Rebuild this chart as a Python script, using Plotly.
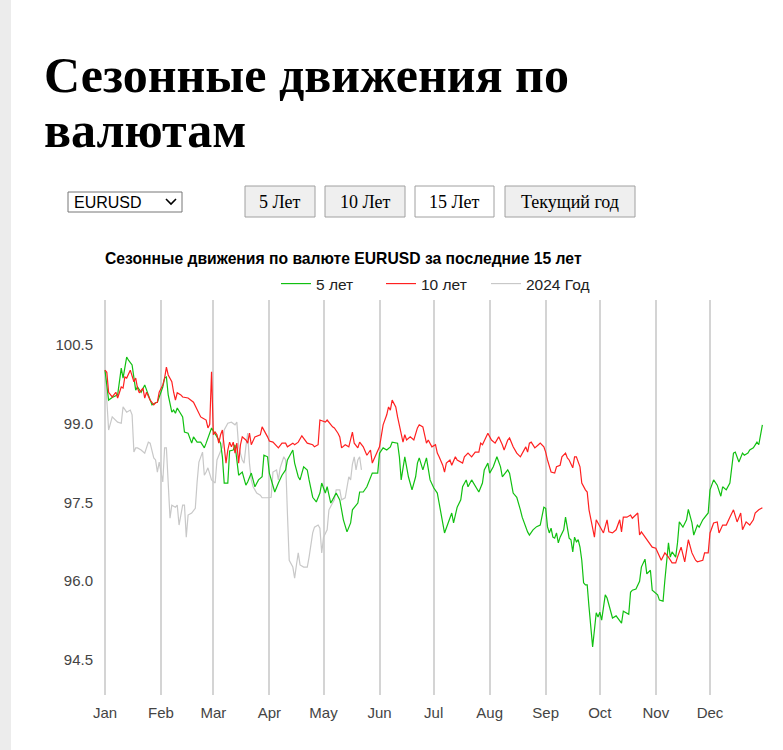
import pandas as pd
import plotly.graph_objects as go

# ---------------- data (day offset from 1 Jan, index value) ----------------
year_start = "2024-01-01"

g5_days = [0,2,4,7,9,10,12,13,15,16,
           17,18,20,22,24,26,28,29,32,33,
           34,35,37,38,39,40,43,44,46,48,
           49,51,53,55,56,58,59,62,64,65,
           66,68,69,71,72,74,76,78,79,81,
           83,85,87,88,90,91,92,94,96,98,
           100,101,104,105,107,108,110,112,113,115,
           117,119,120,122,123,125,126,128,130,132,
           134,136,137,140,141,143,145,147,148,151,
           152,154,156,158,159,162,163,164,166,168,
           170,172,173,174,176,178,180,182,184,185,
           187,188,190,192,193,195,197,198,200,201,
           203,205,207,209,210,212,213,215,217,219,
           220,223,224,226,228,230,231,234,235,237,
           239,241,242,243,244,245,246,247,248,249,
           250,251,252,254,255,256,257,258,259,260,
           261,262,263,264,265,266,267,268,269,270,
           271,272,273,274,275,277,278,280,281,283,
           286,287,290,291,292,294,296,297,299,300,
           302,303,306,307,309,310,312,313,314,316,
           317,318,320,322,323,325,326,328,329,331,
           333,334,335,337,339,341,342,344,346,348,
           349,351,353,354,356,357,359,361,362,363,
           364]
g5_vals = [100.02,99.45,99.50,99.55,100.06,99.87,100.27,100.21,100.12,99.87,
           99.64,99.70,99.60,99.74,99.55,99.36,99.40,99.41,99.70,99.87,
           99.89,99.55,99.22,99.26,99.20,99.30,99.13,98.84,98.82,98.63,
           98.75,98.65,98.65,98.54,98.63,98.84,98.92,98.75,98.63,98.37,
           97.87,97.87,98.48,98.50,98.60,98.02,98.08,97.83,97.89,98.06,
           97.80,97.93,97.99,98.40,98.37,98.06,97.93,97.70,97.87,98.02,
           98.12,98.31,98.50,98.25,97.99,97.93,98.18,98.12,97.93,97.60,
           97.51,97.68,97.87,97.68,97.80,97.49,97.55,97.68,97.55,97.17,
           96.94,97.11,97.36,97.49,97.70,97.70,97.80,97.97,98.06,98.06,
           98.44,98.54,98.50,98.56,98.65,98.63,98.37,97.93,98.37,97.99,
           97.74,97.99,98.25,98.35,98.12,98.35,97.93,97.78,97.68,97.49,
           97.11,96.92,97.11,97.30,97.11,97.41,97.55,97.80,97.93,97.80,
           97.93,97.80,97.70,97.87,98.12,98.25,98.06,98.18,98.37,98.18,
           97.99,98.12,98.06,97.68,97.60,97.36,97.22,96.94,96.88,96.98,
           97.04,97.07,97.22,97.41,97.39,97.04,96.92,97.01,96.84,96.82,
           96.92,96.73,96.84,96.98,97.22,96.98,96.82,96.79,96.56,96.84,
           96.75,96.79,96.65,96.40,95.97,95.93,95.93,95.51,95.13,94.75,
           95.07,95.40,95.32,95.41,95.26,95.74,95.68,95.45,95.30,95.34,
           95.20,95.43,95.37,95.79,95.83,95.85,96.00,96.27,96.42,96.14,
           96.21,95.83,95.74,95.64,95.62,96.02,96.73,96.46,96.56,96.46,
           96.73,97.13,97.03,97.17,97.37,97.11,96.88,97.07,97.03,97.17,
           97.26,97.30,97.74,97.93,97.83,97.62,97.80,97.74,97.87,98.44,
           98.46,98.27,98.44,98.40,98.44,98.50,98.54,98.65,98.60,98.82,
           98.98]

r10_days = [0,1,2,4,6,7,9,10,11,12,
            14,16,17,18,19,21,22,23,25,27,
            28,29,30,32,33,34,35,37,38,39,
            40,42,43,46,49,51,53,54,56,57,
            58,59,60,61,62,63,64,65,66,67,
            68,69,70,71,72,73,74,75,76,78,
            79,80,81,83,86,87,90,91,93,96,
            98,100,101,104,105,107,109,111,112,115,
            116,118,119,122,123,126,127,129,130,131,
            133,135,137,138,140,141,143,145,147,148,
            151,152,154,156,157,158,159,161,162,163,
            164,165,166,167,169,171,173,174,176,177,
            178,179,181,183,184,185,187,188,189,191,
            192,194,195,198,199,201,203,205,207,208,
            209,212,214,216,218,220,221,223,224,226,
            228,230,231,233,234,235,236,238,240,241,
            243,244,245,247,249,250,252,253,255,256,
            257,259,260,261,263,264,266,267,268,270,
            271,272,274,276,278,279,281,283,285,286,
            287,289,291,292,295,296,297,299,301,303,
            305,306,308,310,312,314,316,317,319,321,
            323,325,327,328,331,332,334,335,337,339,
            340,342,344,346,348,350,352,353,355,357,
            359,360,362,364]
r10_vals = [100.02,99.98,99.60,99.51,99.60,99.49,99.70,99.68,99.89,99.87,
            100.02,99.80,99.87,99.68,99.59,99.68,99.49,99.60,99.45,99.36,
            99.40,99.41,99.60,99.74,99.87,100.08,99.93,99.80,99.60,99.45,
            99.59,99.55,99.51,99.49,99.41,99.26,99.13,99.11,99.07,98.92,
            98.99,99.99,98.79,98.84,98.79,98.63,98.79,98.88,98.60,98.25,
            98.50,98.65,98.56,98.65,98.44,98.63,98.25,98.60,98.75,98.69,
            98.63,98.82,98.60,98.75,98.79,98.94,98.75,98.67,98.65,98.54,
            98.63,98.63,98.56,98.63,98.60,98.65,98.77,98.69,98.63,98.60,
            98.56,98.60,99.07,99.03,99.07,98.94,98.92,98.82,98.75,98.54,
            98.60,98.56,98.84,98.63,98.54,98.65,98.56,98.40,98.50,98.25,
            98.50,98.56,98.98,99.17,99.32,99.26,99.45,99.32,99.13,98.98,
            98.82,98.65,98.79,98.69,98.75,98.69,98.92,98.98,98.94,98.75,
            98.63,98.69,98.56,98.60,98.44,98.37,98.21,98.08,98.25,98.31,
            98.21,98.37,98.31,98.25,98.37,98.44,98.37,98.46,98.46,98.63,
            98.60,98.82,98.69,98.63,98.75,98.60,98.50,98.69,98.73,98.56,
            98.44,98.37,98.44,98.56,98.46,98.63,98.65,98.54,98.60,98.63,
            98.56,98.46,98.31,98.08,98.06,98.18,98.21,98.37,98.44,98.35,
            98.31,98.16,98.37,98.37,98.18,97.87,97.74,97.70,97.36,97.03,
            96.84,97.17,97.03,96.92,97.17,96.94,96.92,96.98,97.17,96.94,
            97.22,97.22,97.26,97.20,97.30,96.88,96.94,96.84,96.75,96.65,
            96.63,96.54,96.40,96.54,96.46,96.35,96.35,96.46,96.65,96.37,
            96.79,96.54,96.40,96.37,96.40,96.54,96.54,96.92,97.11,97.13,
            96.92,97.07,97.07,97.22,97.36,97.13,97.30,96.98,97.13,97.07,
            97.17,97.30,97.36,97.40]

y24_days = [0,1,2,4,6,7,9,10,12,14,
            15,16,17,18,20,22,24,25,27,28,
            29,30,32,33,34,35,36,37,39,40,
            41,43,44,45,46,48,50,51,52,54,
            55,56,57,59,61,62,65,66,68,70,
            72,73,74,76,77,78,79,80,81,82,
            84,86,87,90,91,92,93,95,96,97,
            99,100,101,102,104,105,106,107,108,110,
            112,113,115,116,118,119,120,121,123,124,
            126,127,128,130,131,133,135,136,137,138,
            139,140,141,142]
y24_vals = [100.02,99.36,98.88,99.13,99.07,99.03,99.01,99.32,99.22,99.26,
            99.17,98.46,98.54,98.54,98.50,98.44,98.65,98.63,98.35,98.31,
            98.08,98.27,97.89,98.54,98.54,97.70,97.20,97.45,97.41,97.45,
            97.07,97.45,97.45,96.84,97.26,97.30,97.39,97.89,98.27,98.46,
            98.02,98.08,98.16,97.93,97.87,98.31,98.56,98.88,99.01,99.03,
            98.98,99.03,98.56,98.31,98.25,98.56,98.82,98.25,97.93,97.80,
            97.68,97.64,97.59,97.59,97.59,97.60,98.08,98.12,97.93,98.16,
            98.37,98.31,97.30,96.40,96.27,96.06,96.31,96.54,96.31,96.27,
            96.27,96.46,96.92,97.03,97.07,97.01,96.54,96.84,96.98,97.36,
            97.49,97.55,97.74,97.74,97.55,97.59,97.99,97.93,98.23,98.37,
            98.12,98.31,98.37,98.12]

month_labels = ["Jan", "Feb", "Mar", "Apr", "May", "Jun",
                "Jul", "Aug", "Sep", "Oct", "Nov", "Dec"]
y_ticks = [94.5, 96.0, 97.5, 99.0, 100.5]

series_names = ["5 лет", "10 лет", "2024 Год"]
series_colors = ["#11c011", "#ff2020", "#c8c8c8"]

page_title = ["Сезонные движения по", "валютам"]
chart_title = "Сезонные движения по валюте EURUSD за последние 15 лет"
pair_label = "EURUSD"
period_buttons = ["5 Лет", "10 Лет", "15 Лет", "Текущий год"]
active_button = "15 Лет"

# ---------------- figure ----------------
base = pd.Timestamp(year_start)
def to_dates(days):
    return base + pd.to_timedelta(days, unit="D")

W, H = 783, 750
L, R, T, B = 102, 19, 300, 55
PW, PH = W - L - R, H - T - B
PX_PER_DAY = 1.806

def px(x):
    return (x - L) / PW

def py(y):
    return (H - B - y) / PH

fig = go.Figure()
traces = [(y24_days, y24_vals, 2), (g5_days, g5_vals, 0), (r10_days, r10_vals, 1)]
for days, vals, i in traces:
    fig.add_trace(go.Scatter(
        x=to_dates(days), y=vals, mode="lines", name=series_names[i],
        line=dict(color=series_colors[i], width=1.2),
        legendrank=i + 1, hoverinfo="skip"))

month_starts = pd.date_range(year_start, periods=12, freq="MS")
x_start = base - pd.Timedelta(days=3 / PX_PER_DAY)
x_end = x_start + pd.Timedelta(days=PW / PX_PER_DAY)

fig.update_xaxes(
    type="date", range=[x_start, x_end],
    tickvals=month_starts, ticktext=month_labels,
    showgrid=True, gridcolor="#d4d4d4", gridwidth=1.5,
    zeroline=False, showline=False,
    ticks="outside", ticklen=4, tickcolor="rgba(0,0,0,0)",
    tickfont=dict(family="Liberation Sans, Arial", size=15, color="#444"),
    fixedrange=True)
fig.update_yaxes(
    range=[93.833, 101.357],
    tickvals=y_ticks, ticktext=[f"{v:.1f}" for v in y_ticks],
    showgrid=False, zeroline=False, showline=False,
    ticks="outside", ticklen=5, tickcolor="rgba(0,0,0,0)",
    tickfont=dict(family="Liberation Sans, Arial", size=15, color="#444"),
    fixedrange=True)

annotations = []
shapes = []

# left page stripe
shapes.append(dict(type="rect", xref="paper", yref="paper",
                   x0=px(0), x1=px(11), y0=py(750), y1=py(0),
                   fillcolor="#ececec", line=dict(width=0), layer="below"))

# page heading
for line, yc in zip(page_title, [75, 130]):
    annotations.append(dict(text=f"<b>{line}</b>", xref="paper", yref="paper",
                            x=px(42), y=py(yc), xanchor="left", yanchor="middle",
                            showarrow=False,
                            font=dict(family="Liberation Serif, Times New Roman",
                                      size=50, color="#000")))

# pair selector
shapes.append(dict(type="rect", xref="paper", yref="paper",
                   x0=px(68), x1=px(182), y0=py(212), y1=py(192),
                   fillcolor="#ffffff", line=dict(color="#767676", width=1)))
annotations.append(dict(text=pair_label, xref="paper", yref="paper",
                        x=px(72), y=py(202), xanchor="left", yanchor="middle",
                        showarrow=False,
                        font=dict(family="Liberation Sans, Arial", size=16, color="#000")))
shapes.append(dict(type="path", xref="paper", yref="paper",
                   path=f"M{px(166)},{py(199)} L{px(171)},{py(204)} L{px(176)},{py(199)}",
                   line=dict(color="#000", width=1.6)))

# period buttons
btn_boxes = [(245, 315), (325, 405), (415, 494), (505, 635)]
for label, (x0, x1) in zip(period_buttons, btn_boxes):
    shapes.append(dict(type="rect", xref="paper", yref="paper",
                       x0=px(x0), x1=px(x1), y0=py(217), y1=py(186),
                       fillcolor="#ffffff" if label == active_button else "#efefef",
                       line=dict(color="#a0a0a0", width=1)))
    annotations.append(dict(text=label, xref="paper", yref="paper",
                            x=px((x0 + x1) / 2), y=py(201.5),
                            xanchor="center", yanchor="middle", showarrow=False,
                            font=dict(family="Liberation Serif, Times New Roman",
                                      size=18, color="#000")))

# chart title
annotations.append(dict(text=f"<b>{chart_title}</b>", xref="paper", yref="paper",
                        x=px(103), y=py(259), xanchor="left", yanchor="middle",
                        showarrow=False,
                        font=dict(family="Liberation Sans, Arial", size=15.7, color="#000")))

fig.update_layout(
    width=W, height=H,
    margin=dict(l=L, r=R, t=T, b=B),
    paper_bgcolor="#ffffff", plot_bgcolor="#ffffff",
    showlegend=True,
    legend=dict(orientation="h", x=px(276), y=py(284), xanchor="left", yanchor="middle",
                entrywidth=60, entrywidthmode="pixels",
                font=dict(family="Liberation Sans, Arial", size=15.5, color="#222"),
                bgcolor="rgba(0,0,0,0)", traceorder="normal"),
    annotations=annotations, shapes=shapes,
    hovermode=False,
)

fig.write_html("out.html", config={"displayModeBar": False})
